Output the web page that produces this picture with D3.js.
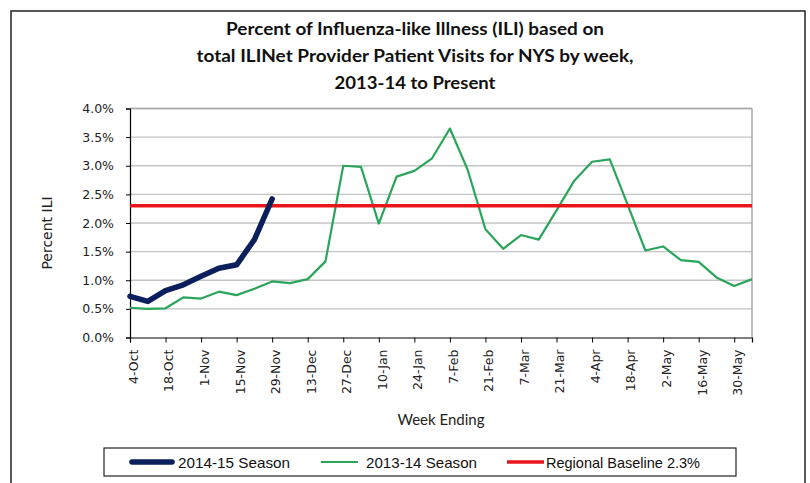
<!DOCTYPE html>
<html>
<head>
<meta charset="utf-8">
<script src="https://cdn.jsdelivr.net/npm/d3@7/dist/d3.min.js"></script>
<style>
  html, body { margin: 0; padding: 0; background: #fff; }
  svg { display: block; }
</style>
</head>
<body>
<svg id="chart" width="810" height="483"></svg>
<script>
// ---- Data ----
const weeks = ["4-Oct","11-Oct","18-Oct","25-Oct","1-Nov","8-Nov","15-Nov","22-Nov","29-Nov","6-Dec",
  "13-Dec","20-Dec","27-Dec","3-Jan","10-Jan","17-Jan","24-Jan","31-Jan","7-Feb","14-Feb",
  "21-Feb","28-Feb","7-Mar","14-Mar","21-Mar","28-Mar","4-Apr","11-Apr","18-Apr","25-Apr",
  "2-May","9-May","16-May","23-May","30-May","6-Jun"];
const tickLabels = ["4-Oct","18-Oct","1-Nov","15-Nov","29-Nov","13-Dec","27-Dec","10-Jan","24-Jan",
  "7-Feb","21-Feb","7-Mar","21-Mar","4-Apr","18-Apr","2-May","16-May","30-May"];
const season1415 = [0.72,0.63,0.82,0.92,1.07,1.21,1.27,1.71,2.42];
const season1314 = [0.52,0.50,0.51,0.70,0.68,0.80,0.74,0.85,0.98,0.95,
  1.02,1.33,3.00,2.98,1.99,2.81,2.91,3.13,3.65,2.93,
  1.89,1.55,1.79,1.71,2.22,2.74,3.07,3.11,2.32,1.52,
  1.59,1.35,1.32,1.05,0.90,1.02];
const baseline = 2.3;
const yTicks = [0,0.5,1,1.5,2,2.5,3,3.5,4];
const titleLines = ["Percent of Influenza-like Illness (ILI) based on",
  "total ILINet Provider Patient Visits for NYS by week,",
  "2013-14 to Present"];
const legendItems = [
  {label: "2014-15 Season", color: "#0b1f5c", width: 5.5},
  {label: "2013-14 Season", color: "#2aa55a", width: 2.2},
  {label: "Regional Baseline 2.3%", color: "#e8151b", width: 3.5}
];

// ---- Layout ----
const svg = d3.select("#chart");
const L = 130, R = 752, T = 108.5, B = 337.5;

const x = d3.scalePoint().domain(weeks).range([L, R]);
const y = d3.scaleLinear().domain([0, 4]).range([B, T]);

// outer border
svg.append("rect").attr("x", 11).attr("y", 11).attr("width", 794).attr("height", 480)
  .attr("fill", "none").attr("stroke", "#222").attr("stroke-width", 1.5);

// title
const title = svg.append("text").attr("text-anchor", "middle")
  .attr("font-family", "Lato, 'Open Sans', sans-serif").attr("font-weight", "bold")
  .attr("font-size", 16.5).attr("fill", "#111");
const titleY = [35, 62, 89];
const titleW = [378, 437, 161];
titleLines.forEach((t, i) => {
  title.append("tspan").attr("x", 415).attr("y", titleY[i]).text(t)
    .attr("textLength", titleW[i]).attr("lengthAdjust", "spacingAndGlyphs");
});

// gridlines
svg.append("g").selectAll("line").data(yTicks.filter(d => d > 0)).join("line")
  .attr("x1", L).attr("x2", R).attr("y1", d => y(d)).attr("y2", d => y(d))
  .attr("stroke", "#c4c4c4").attr("stroke-width", 1.3);

// plot border right / top
svg.append("line").attr("x1", R).attr("x2", R).attr("y1", T).attr("y2", B)
  .attr("stroke", "#a8a8a8").attr("stroke-width", 1.5);
svg.append("line").attr("x1", L).attr("x2", R).attr("y1", T).attr("y2", T)
  .attr("stroke", "#a8a8a8").attr("stroke-width", 1.5);

// y axis
const yAxis = svg.append("g").attr("transform", `translate(${L},0)`)
  .call(d3.axisLeft(y).tickValues(yTicks).tickSizeOuter(0).tickSize(4).tickPadding(12)
    .tickFormat(d => d.toFixed(1) + "%"));
yAxis.select(".domain").attr("stroke", "#000").attr("stroke-width", 1.2);
yAxis.selectAll(".tick line").attr("stroke", "#000");
yAxis.selectAll("text").attr("font-family", "'DejaVu Sans', Verdana, sans-serif").attr("font-size", 12.5)
  .attr("fill", "#222");

// x axis
const xAxis = svg.append("g").attr("transform", `translate(0,${B})`)
  .call(d3.axisBottom(x).tickValues(tickLabels).tickSizeOuter(0).tickSize(5));
xAxis.select(".domain").attr("stroke", "#000").attr("stroke-width", 1.2);
xAxis.selectAll(".tick line").attr("stroke", "#000");
xAxis.selectAll("text")
  .attr("font-family", "'DejaVu Sans', Verdana, sans-serif").attr("font-size", 12.5).attr("fill", "#222")
  .attr("text-anchor", "end")
  .attr("transform", "rotate(-90)")
  .attr("x", -12).attr("y", 3).attr("dy", "0.35em");

// axis titles
svg.append("text").attr("transform", `translate(52,233) rotate(-90)`)
  .attr("text-anchor", "middle").attr("font-family", "'DejaVu Sans', Verdana, sans-serif")
  .attr("font-size", 14).attr("fill", "#222").text("Percent ILI");
svg.append("text").attr("x", 441).attr("y", 425).attr("text-anchor", "middle")
  .attr("font-family", "Lato, 'Open Sans', sans-serif").attr("font-size", 15).attr("fill", "#222")
  .text("Week Ending");

// lines
const line = d3.line().x((d, i) => x(weeks[i])).y(d => y(d));
svg.append("path").datum(season1314).attr("d", line).attr("fill", "none")
  .attr("stroke", legendItems[1].color).attr("stroke-width", legendItems[1].width).attr("stroke-linejoin", "round");
svg.append("line").attr("x1", L).attr("x2", R).attr("y1", y(baseline)).attr("y2", y(baseline))
  .attr("stroke", legendItems[2].color).attr("stroke-width", legendItems[2].width);
svg.append("path").datum(season1415).attr("d", line).attr("fill", "none")
  .attr("stroke", legendItems[0].color).attr("stroke-width", legendItems[0].width)
  .attr("stroke-linejoin", "round").attr("stroke-linecap", "round");

// legend
svg.append("rect").attr("x", 104).attr("y", 448).attr("width", 632).attr("height", 28)
  .attr("fill", "#fff").attr("stroke", "#222").attr("stroke-width", 1.2);
const legX = [132, 321, 507];
const legTextX = [178, 366, 546];
const legTextW = [112, 111, 154];
legendItems.forEach((it, i) => {
  svg.append("line").attr("x1", legX[i]).attr("x2", legX[i] + (i === 0 ? 40 : 37))
    .attr("y1", 462).attr("y2", 462).attr("stroke", it.color).attr("stroke-width", it.width)
    .attr("stroke-linecap", i === 0 ? "round" : "butt");
  svg.append("text").attr("x", legTextX[i]).attr("y", 468)
    .attr("font-family", "'Liberation Sans', Arial, sans-serif").attr("font-size", 15).attr("fill", "#111")
    .attr("textLength", legTextW[i]).attr("lengthAdjust", "spacingAndGlyphs")
    .text(it.label);
});
</script>
</body>
</html>
